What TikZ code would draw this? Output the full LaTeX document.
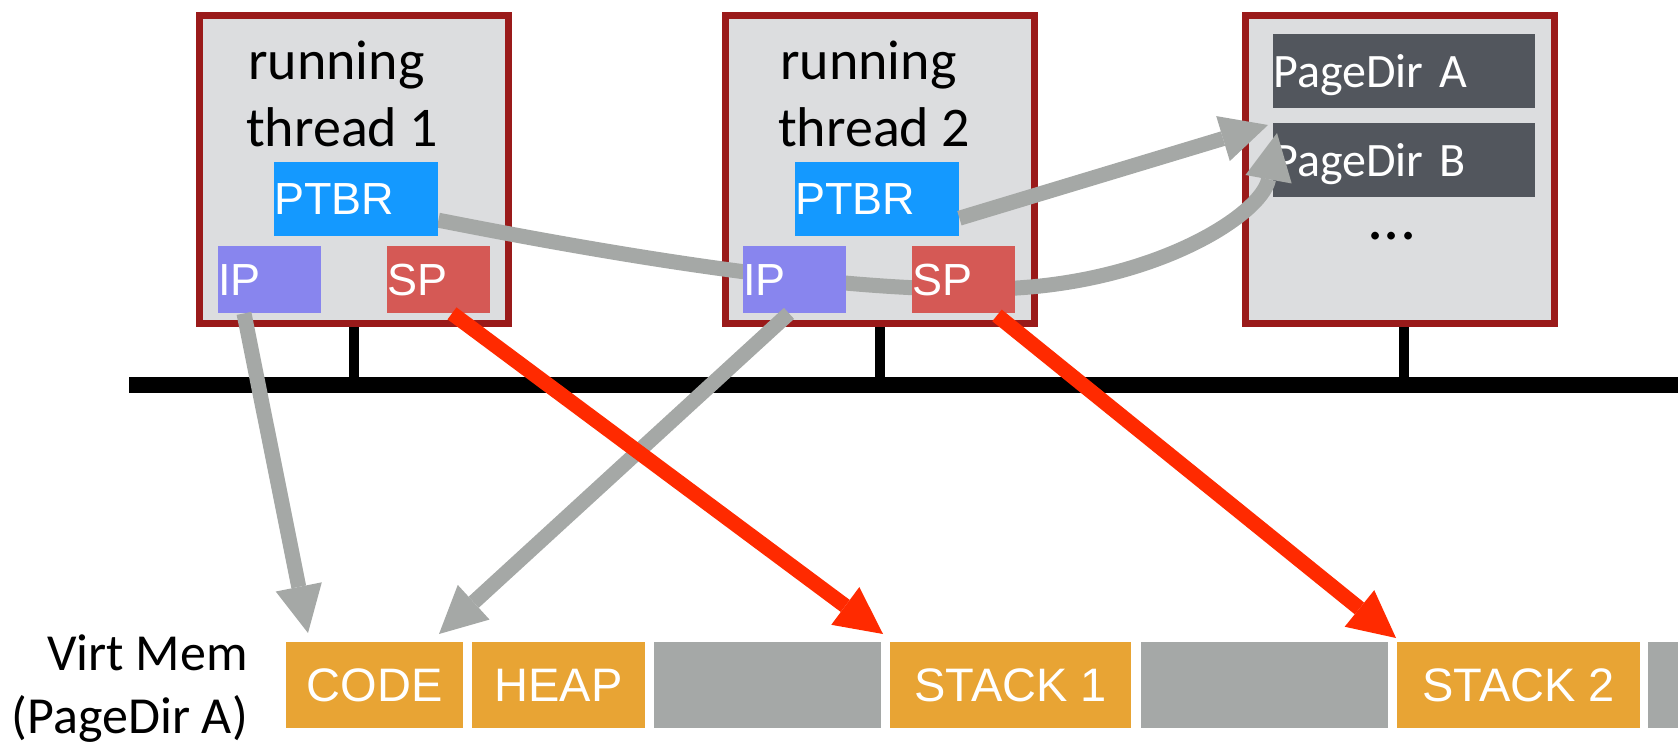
\documentclass[tikz,border=0pt]{standalone}
\usepackage{fontspec}
\setmainfont{Carlito}
\newfontfamily\arialf{Liberation Sans}
\usetikzlibrary{arrows.meta,calc}
\pgfdeclarelayer{bg}
\pgfdeclarelayer{mid}
\pgfsetlayers{bg,mid,main}
\definecolor{boxfill}{HTML}{DCDDDF}
\definecolor{boxborder}{HTML}{9A1A1A}
\definecolor{ptbrblue}{HTML}{1499FF}
\definecolor{ippurple}{HTML}{8885EE}
\definecolor{spred}{HTML}{D55955}
\definecolor{pdgray}{HTML}{52565D}
\definecolor{memorange}{HTML}{E8A434}
\definecolor{memgray}{HTML}{A5A8A7}
\definecolor{arrowgray}{HTML}{A5A8A6}
\definecolor{arrowred}{HTML}{FF2A00}
\begin{document}
\begin{tikzpicture}[x=1pt,y=-1pt,
  bigbox/.style={draw=boxborder, fill=boxfill, line width=7pt, minimum width=309pt, minimum height=308pt, inner sep=0pt},
  reg/.style={anchor=north west, inner sep=0pt, text=white, font=\arialf\fontsize{45}{54}\selectfont, align=left, text depth=0pt},
  pd/.style={anchor=north west, inner sep=0pt, fill=pdgray, text=white, font=\fontsize{48}{58}\selectfont, align=left, text width=262pt, minimum height=74pt, text depth=0pt},
  memb/.style={anchor=north west, inner sep=0pt, minimum height=86pt, text=white, font=\arialf\fontsize{47}{55}\selectfont, text depth=0pt},
  title/.style={anchor=base west, inner sep=0pt, font=\fontsize{56}{65}\selectfont},
  vlabel/.style={anchor=base east, inner sep=0pt, font=\fontsize{52}{63}\selectfont},
  stub/.style={line width=10pt, black},
  garrow/.style={draw=arrowgray, line width=15pt, -{Triangle[length=47pt,width=47pt,line width=0pt]}},
  rarrow/.style={draw=arrowred, line width=15pt, -{Triangle[length=47pt,width=47pt,line width=0pt]}}
]
\useasboundingbox (0,0) rectangle (1678,743);

\begin{pgfonlayer}{bg}
% bus
\coordinate (busL) at (129,385);
\coordinate (busR) at (1678,385);
\draw[line width=16pt] (busL) -- (busR);
% big boxes
\node[bigbox] (t1) at (354,169.5) {};
\node[bigbox] (t2) at (879.5,169.5) {};
\node[bigbox] (t3) at (1400,169.5) {};
\draw[stub] (t1.south) -- (t1.south |- busL);
\draw[stub] (t2.south) -- (t2.south |- busL);
\draw[stub] ($(t3.south)+(4,0)$) -- ($(t3.south |- busL)+(4,0)$);
\node[bigbox] at (t1) {};
\node[bigbox] at (t2) {};
\node[bigbox] at (t3) {};
% titles
\node[title] (r1) at (248,80) {running};
\node[title] (th1) at (246,147) {thread 1};
\node[title] (r2) at (780,80) {running};
\node[title] (th2) at (778,147) {thread 2};
% page directories
\node[pd] (pda) at (1273,34) {PageDir A};
\node[pd] (pdb) at (1273,123) {PageDir B};
\node[font=\fontsize{64}{70}\selectfont, inner sep=0pt] (dots) at (1392,236) {...};
\end{pgfonlayer}

% registers
\node[reg, fill=ptbrblue, text width=164pt, minimum height=74pt] (ptbr1) at (274,162) {PTBR};
\node[reg, fill=ippurple, text width=103pt, minimum height=67pt] (ip1) at (218,246) {IP};
\node[reg, fill=spred, text width=103pt, minimum height=67pt] (sp1) at (387,246) {SP};
\node[reg, fill=ptbrblue, text width=164pt, minimum height=74pt] (ptbr2) at (795,162) {PTBR};
\node[reg, fill=ippurple, text width=103pt, minimum height=67pt] (ip2) at (743,246) {IP};
\node[reg, fill=spred, text width=103pt, minimum height=67pt] (sp2) at (912,246) {SP};

% curved arrow PTBR1 -> PageDir B (behind registers)
\begin{pgfonlayer}{mid}
\draw[garrow] ($(ptbr1.east)+(0,21)$)
  .. controls (650,262) and (850,292) .. (990,289)
  .. controls (1150,287) and (1262,215) .. ($(pdb.north west)+(4,10)$);
\end{pgfonlayer}

% memory
\node[memb, fill=memorange, minimum width=177pt] (code) at (286,642) {CODE};
\node[memb, fill=memorange, minimum width=173pt] (heap) at (472,642) {HEAP};
\node[memb, fill=memgray, minimum width=227pt] (free1) at (654,642) {};
\node[memb, fill=memorange, minimum width=241pt] (stack1) at (890,642) {STACK 1};
\node[memb, fill=memgray, minimum width=247pt] (free2) at (1141,642) {};
\node[memb, fill=memorange, minimum width=243pt] (stack2) at (1397,642) {STACK 2};
\node[memb, fill=memgray, minimum width=30pt] (free3) at (1648,642) {};

\node[vlabel] (vm1) at (248,670) {Virt Mem};
\node[vlabel] (vm2) at (248,733) {(PageDir A)};

% straight arrows
\draw[garrow] ($(ptbr2.east)+(0,19)$) -- ($(pdb.north west)+(-5,2)$);
\draw[garrow] ($(ip1.south west)+(26,0)$) -- ($(code.north west)+(22,-9)$);
\draw[garrow] ($(ip2.south west)+(46,0)$) -- ($(code.north west)+(153,-8)$);
\draw[rarrow] ($(sp1.south west)+(65,0)$) -- ($(stack1.north west)+(-7,-8)$);
\draw[rarrow] ($(sp2.south west)+(85,2)$) -- ($(stack2.north west)+(-1,-4)$);
\end{tikzpicture}
\end{document}
